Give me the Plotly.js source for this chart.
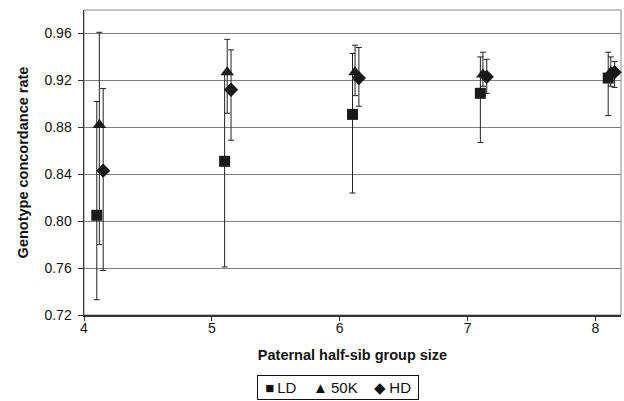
<!DOCTYPE html>
<html>
<head>
<meta charset="utf-8">
<script src="https://cdn.plot.ly/plotly-3.0.1.min.js"></script>
<style>html,body{margin:0;padding:0;background:#fff;}#chart{width:624px;height:401px;}</style>
</head>
<body>
<div id="chart"></div>
<script>
// Data
const groupSize = [4, 5, 6, 7, 8];
const seriesNames = ["LD", "50K", "HD"];
const offsets = [0.10, 0.12, 0.15];

const ldMean  = [0.805, 0.851, 0.891, 0.909, 0.922];
const ldUpper = [0.902, 0.925, 0.943, 0.940, 0.944];
const ldLower = [0.733, 0.761, 0.824, 0.867, 0.890];

const k50Mean  = [0.882, 0.927, 0.927, 0.925, 0.927];
const k50Upper = [0.961, 0.955, 0.950, 0.944, 0.940];
const k50Lower = [0.780, 0.892, 0.907, 0.915, 0.915];

const hdMean  = [0.843, 0.912, 0.922, 0.923, 0.927];
const hdUpper = [0.913, 0.946, 0.948, 0.938, 0.936];
const hdLower = [0.758, 0.869, 0.898, 0.909, 0.914];

const yTicks = [0.72, 0.76, 0.80, 0.84, 0.88, 0.92, 0.96];
const xTicks = [4, 5, 6, 7, 8];
const legendGlyphs = ["\u25A0", "\u25B2", "\u25C6"];

const means = [ldMean, k50Mean, hdMean];
const uppers = [ldUpper, k50Upper, hdUpper];
const lowers = [ldLower, k50Lower, hdLower];
const symbols = ["square", "triangle-up", "diamond"];
const sizes = [11, 12, 11];

const traces = seriesNames.map((name, i) => ({
  type: "scatter",
  mode: "markers",
  name: name,
  x: groupSize.map(g => g + offsets[i]),
  y: means[i],
  marker: {symbol: symbols[i], size: sizes[i], color: "#1a1a1a", line: {width: 0}},
  error_y: {
    type: "data",
    symmetric: false,
    array: uppers[i].map((u, j) => u - means[i][j]),
    arrayminus: means[i].map((m, j) => m - lowers[i][j]),
    color: "#222",
    thickness: 1,
    width: 3
  },
  cliponaxis: false
}));

const font = {family: "Liberation Sans, Arial, sans-serif", color: "#111"};

const legendText = '&nbsp;' + seriesNames.map((n, i) =>
  '<span style="font-size:15px">' + legendGlyphs[i] + '</span>\u2009' + n).join("&nbsp;&nbsp;&nbsp;&nbsp;") + '&nbsp;';

const layout = {
  width: 624, height: 401,
  margin: {l: 84, r: 3, t: 10, b: 86},
  paper_bgcolor: "#fff", plot_bgcolor: "#fff",
  font: Object.assign({size: 13.5}, font),
  showlegend: false,
  xaxis: {
    range: [4, 8.2],
    tickvals: xTicks,
    ticks: "outside", ticklen: 4, tickcolor: "#333", tickwidth: 1,
    showline: true, linecolor: "#333", linewidth: 1.5,
    showgrid: false, zeroline: false,
    ticklabelstandoff: -4,
    tickfont: Object.assign({size: 14}, font),
    title: {text: "<b>Paternal half-sib group size</b>", font: Object.assign({size: 14.5}, font), standoff: 14}
  },
  yaxis: {
    range: [0.72, 0.98],
    tickvals: yTicks,
    ticktext: yTicks.map(v => v.toFixed(2)),
    ticks: "outside", ticklen: 5, tickcolor: "#333", tickwidth: 1,
    showline: true, linecolor: "#333", linewidth: 1.5,
    showgrid: true, gridcolor: "#7f7f7f", gridwidth: 1,
    zeroline: false,
    ticklabelstandoff: 3,
    tickfont: Object.assign({size: 14}, font),
    title: {text: "<b>Genotype concordance rate</b>", font: Object.assign({size: 14.5}, font), standoff: 12}
  },
  shapes: [{
    type: "rect", xref: "paper", yref: "paper", x0: 0, x1: 1, y0: 0, y1: 1,
    line: {color: "#8a8a8a", width: 1}, layer: "below"
  }],
  annotations: [{
    xref: "paper", yref: "paper",
    x: 0.473, y: -0.2377, xanchor: "center", yanchor: "middle",
    text: legendText, showarrow: false,
    font: Object.assign({size: 15}, font),
    bordercolor: "#111", borderwidth: 1, borderpad: 3,
    bgcolor: "#fff"
  }]
};

Plotly.newPlot("chart", traces, layout, {staticPlot: true, displayModeBar: false});
</script>
</body>
</html>
